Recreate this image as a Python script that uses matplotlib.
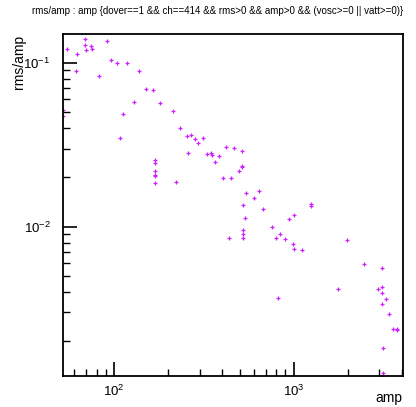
import math
import matplotlib
matplotlib.use('Agg')
import matplotlib.pyplot as plt
from matplotlib.ticker import FuncFormatter, LogLocator, NullFormatter

plt.rcParams['font.family'] = ['Liberation Sans', 'DejaVu Sans']
plt.rcParams['mathtext.fontset'] = 'custom'
plt.rcParams['mathtext.rm'] = 'Liberation Sans'
plt.rcParams['mathtext.it'] = 'Liberation Sans:italic'

# values
amp = [54.7, 68.9, 68.9, 69.8, 73.9, 75.4, 62.2, 90.7, 96.2, 103.1,
       117.3, 61.4, 81.8, 137.9, 150.8, 163.7, 128.3, 179.1, 52.0, 52.0,
       111.8, 213.2, 108.0, 233.3, 253.3, 268.7, 281.8, 312.3, 293.9, 258.5,
       327.3, 346.0, 350.4, 384.9, 421.0, 466.7, 517.2, 362.7, 169.3, 169.3,
       169.3, 169.3, 169.3, 169.3, 220.8, 401.9, 447.3, 497.6, 517.2, 517.2,
       544.4, 643.1, 603.1, 523.6, 676.9, 537.5, 945.1, 1000, 1249, 1249,
       759.7, 842.1, 523.6, 523.6, 523.6, 437.5, 796.7, 895.6, 991.1, 1000,
       1113, 1974, 2466, 3105, 1759, 820.7, 2962, 3105, 3105, 3282,
       3105, 3411, 3591, 3765, 3765, 3146, 3146, 3146]
rms_amp = [0.1223, 0.1402, 0.1282, 0.1206, 0.1270, 0.1223, 0.1130, 0.1369, 0.1039, 0.0996,
           0.0996, 0.0890, 0.0836, 0.0890, 0.0691, 0.0681, 0.0575, 0.0567, 0.0514, 0.0475,
           0.0486, 0.0511, 0.0350, 0.0403, 0.0358, 0.0363, 0.0342, 0.0350, 0.0323, 0.0283,
           0.0279, 0.0282, 0.0275, 0.0271, 0.0305, 0.0301, 0.0290, 0.0249, 0.0254, 0.0246,
           0.0220, 0.0206, 0.0203, 0.0184, 0.0187, 0.0198, 0.0198, 0.0220, 0.0234, 0.0231,
           0.0160, 0.0165, 0.0150, 0.0136, 0.0128, 0.01125, 0.0111, 0.01184, 0.01371, 0.01344,
           0.00992, 0.00899, 0.00955, 0.00899, 0.00853, 0.00853, 0.00853, 0.00841, 0.00781, 0.00734,
           0.00724, 0.00830, 0.00592, 0.00562, 0.00416, 0.00365, 0.00418, 0.00430, 0.00392, 0.00360,
           0.00336, 0.00292, 0.00236, 0.00238, 0.00235, 0.00182, 0.00128, 0.00123]

xlim = (51.8, 4050)
ylim = (0.00123, 0.1497)
title = 'rms/amp : amp {dover==1 && ch==414 && rms>0 && amp>0 && (vosc>=0 || vatt>=0)}'

fig = plt.figure(figsize=(4.16, 4.07), dpi=100)
ax = fig.add_axes([0.1514, 0.0769, 0.8166, 0.8388])

ax.plot(amp, rms_amp, ls='none', marker='+', ms=3.2, mew=0.9, color='#cc22ff')

ax.set_xscale('log')
ax.set_yscale('log')
ax.set_xlim(xlim)
ax.set_ylim(ylim)

def powfmt(v, pos):
    e = int(round(math.log10(v)))
    return r'$\mathregular{10^{%d}}$' % e

ax.xaxis.set_major_locator(LogLocator(base=10))
ax.yaxis.set_major_locator(LogLocator(base=10))
ax.xaxis.set_major_formatter(FuncFormatter(powfmt))
ax.yaxis.set_major_formatter(FuncFormatter(powfmt))
ax.xaxis.set_minor_locator(LogLocator(base=10, subs=range(2, 10)))
ax.yaxis.set_minor_locator(LogLocator(base=10, subs=range(2, 10)))
ax.xaxis.set_minor_formatter(NullFormatter())
ax.yaxis.set_minor_formatter(NullFormatter())

ax.tick_params(which='major', direction='in', length=10, width=1.2, labelsize=9.5,
               top=False, right=False)
ax.tick_params(which='minor', direction='in', length=5, width=1.0, top=False, right=False)
ax.tick_params(axis='x', which='major', pad=6)
ax.tick_params(axis='y', which='major', pad=9)

for s in ax.spines.values():
    s.set_linewidth(1.3)

fig.text(0.522, 0.972, title, ha='center', va='center', fontsize=7)
fig.text(0.045, 0.915, 'rms/amp', rotation=90, ha='center', va='top', fontsize=10)
fig.text(0.967, 0.022, 'amp', ha='right', va='center', fontsize=10)

fig.savefig('out.png', dpi=100)
